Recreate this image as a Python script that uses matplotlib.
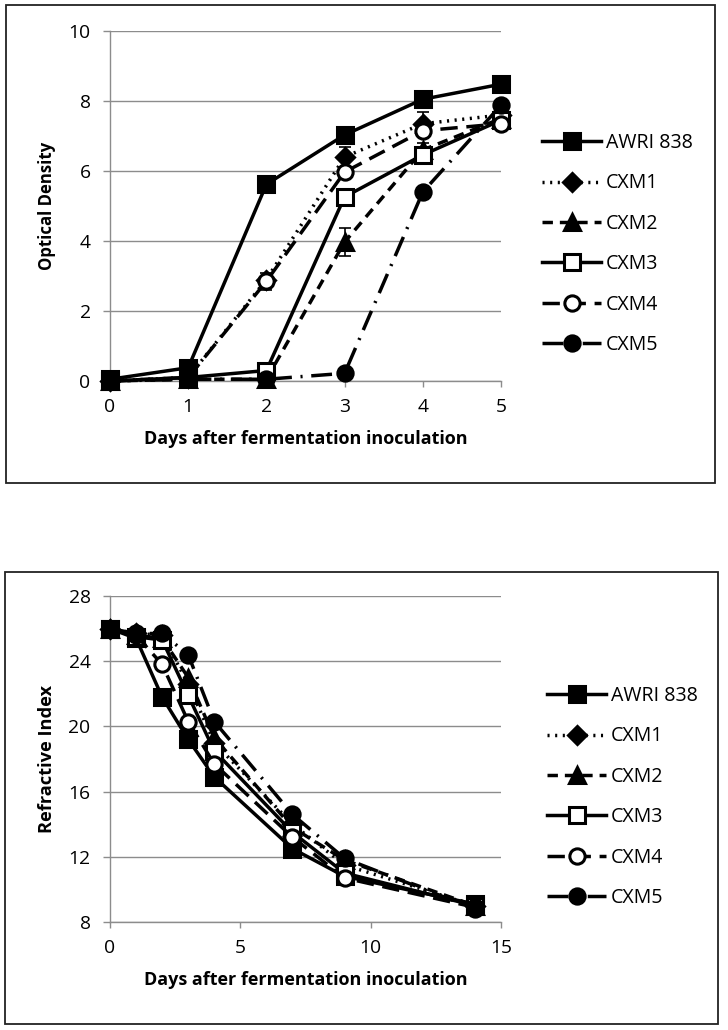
import matplotlib
matplotlib.use("Agg")
import matplotlib.pyplot as plt
from matplotlib.patches import Rectangle

plt.rcParams['font.family'] = ['Open Sans', 'DejaVu Sans']

# ---------- data ----------
strains = ["AWRI 838", "CXM1", "CXM2", "CXM3", "CXM4", "CXM5"]

od_days = [0, 1, 2, 3, 4, 5]
od_awri = [0.05, 0.38, 5.62, 7.03, 8.05, 8.48]
od_cxm1 = [0.0, 0.1, 2.9, 6.4, 7.35, 7.6]
od_cxm2 = [0.0, 0.05, 0.05, 3.97, 6.6, 7.5]
od_cxm3 = [0.0, 0.1, 0.3, 5.26, 6.46, 7.45]
od_cxm4 = [0.0, 0.1, 2.85, 5.97, 7.15, 7.35]
od_cxm5 = [0.0, 0.05, 0.05, 0.22, 5.4, 7.88]
od_err_cxm1 = [0, 0, 0.0, 0.29, 0.35, 0.1]
od_err_cxm2 = [0, 0, 0, 0.4, 0.2, 0.1]
od_err_cxm3 = [0, 0, 0, 0.15, 0.1, 0.05]
od_err_cxm4 = [0, 0, 0.25, 0.1, 0.15, 0.05]

ri_days = [0, 1, 2, 3, 4, 7, 9, 14]
ri_awri = [26.0, 25.4, 21.8, 19.2, 16.9, 12.5, 10.8, 9.1]
ri_cxm1 = [26.0, 25.7, 25.6, 22.6, 19.0, 14.0, 11.5, 9.0]
ri_cxm2 = [26.0, 25.6, 25.4, 23.0, 19.3, 13.8, 11.8, 9.0]
ri_cxm3 = [26.0, 25.5, 25.3, 21.9, 18.5, 13.5, 11.0, 9.0]
ri_cxm4 = [26.0, 25.6, 23.8, 20.3, 17.7, 13.2, 10.7, 8.9]
ri_cxm5 = [26.0, 25.7, 25.7, 24.4, 20.3, 14.6, 11.9, 8.8]

od_ticks = [0, 2, 4, 6, 8, 10]
ri_yticks = [8, 12, 16, 20, 24, 28]
ri_xticks = [0, 5, 10, 15]
xlabel = "Days after fermentation inoculation"

# ---------- styles ----------
styles = [
    dict(ls='-', marker='s', mfc='black'),
    dict(ls=(0, (0.6, 1.6)), marker='D', mfc='black', ms_scale=0.8),
    dict(ls=(0, (3, 2)), marker='^', mfc='black'),
    dict(ls='-', marker='s', mfc='white'),
    dict(ls=(0, (5, 2.5)), marker='o', mfc='white'),
    dict(ls=(0, (6, 2.5, 0.6, 2.5)), marker='o', mfc='black'),
]

W, H = 728, 1030
fig = plt.figure(figsize=(W / 100, H / 100), dpi=100)
renderer = fig.canvas.get_renderer()

def fit_size(text, target_px, weight='normal', base=12.0):
    t = fig.text(0, 0, text, fontsize=base, fontweight=weight)
    bb = t.get_window_extent(renderer)
    t.remove()
    return base * target_px / bb.width

XL_FS = fit_size(xlabel, 326, 'bold')
OD_FS = fit_size("Optical Density", 128, 'bold')
RI_FS = fit_size("Refractive Index", 148, 'bold')
LEG_FS = fit_size("AWRI 838", 87)
TICK_FS = fit_size("10", 22)

def px_axes(x0, y0, x1, y1):
    return fig.add_axes([x0 / W, 1 - y1 / H, (x1 - x0) / W, (y1 - y0) / H])

# panel frames
for (x0, y0, x1, y1) in [(6, 5, 715, 483), (5, 572, 718, 1024)]:
    fig.patches.append(Rectangle((x0 / W, 1 - y1 / H), (x1 - x0) / W, (y1 - y0) / H,
                                 transform=fig.transFigure, fill=False,
                                 edgecolor='#222222', lw=1.3))

def style_axes(ax):
    for s in ['top', 'right']:
        ax.spines[s].set_visible(False)
    for s in ['left', 'bottom']:
        ax.spines[s].set_color('#8c8c8c')
        ax.spines[s].set_linewidth(1.0)
    ax.grid(axis='y', color='#8c8c8c', lw=1.0)
    ax.set_axisbelow(True)
    ax.tick_params(axis='both', colors='#8c8c8c', labelcolor='black',
                   labelsize=TICK_FS, width=1.0)
    ax.tick_params(axis='x', length=4.5, pad=8)
    ax.tick_params(axis='y', length=5, pad=9)

def draw(ax, x, series, errs=None, lw=2.5, ms=11):
    for i, (name, y) in enumerate(zip(strains, series)):
        st = styles[i]
        m = ms * st.get('ms_scale', 1.0)
        ax.plot(x, y, color='black', lw=lw, ls=st['ls'], marker=st['marker'],
                ms=m, mfc=st['mfc'], mec='black', mew=2.2, label=name,
                clip_on=False, zorder=3)
        if errs and i in errs:
            ax.errorbar(x, y, yerr=errs[i], fmt='none', ecolor='black', elinewidth=1.2,
                        capsize=4, capthick=1.2, zorder=2)

def add_legend(ax, x_left, y_center, spacing_px):
    fs_px = LEG_FS * 100 / 72
    ax.legend(loc='center left', bbox_to_anchor=(x_left / W, 1 - y_center / H),
              bbox_transform=fig.transFigure, frameon=False, fontsize=LEG_FS,
              handlelength=59 / fs_px, handletextpad=5 / fs_px,
              labelspacing=(spacing_px / fs_px) - 1.0, borderpad=0, borderaxespad=0)

# ---------- top panel ----------
ax1 = px_axes(110, 31, 501, 381)
style_axes(ax1)
draw(ax1, od_days, [od_awri, od_cxm1, od_cxm2, od_cxm3, od_cxm4, od_cxm5],
     errs={1: od_err_cxm1, 2: od_err_cxm2, 3: od_err_cxm3, 4: od_err_cxm4})
ax1.set_xlim(0, 5)
ax1.set_ylim(0, 10)
ax1.set_xticks(od_days)
ax1.set_yticks(od_ticks)
ax1.set_ylabel("Optical Density", fontsize=OD_FS, fontweight='bold', labelpad=9)
ax1.set_xlabel(xlabel, fontsize=XL_FS, fontweight='bold', labelpad=10)
add_legend(ax1, 542, 244, 40)

# ---------- bottom panel ----------
ax2 = px_axes(110, 596, 501, 922)
style_axes(ax2)
draw(ax2, ri_days, [ri_awri, ri_cxm1, ri_cxm2, ri_cxm3, ri_cxm4, ri_cxm5])
ax2.set_xlim(0, 15)
ax2.set_ylim(8, 28)
ax2.set_xticks(ri_xticks)
ax2.set_yticks(ri_yticks)
ax2.set_ylabel("Refractive Index", fontsize=RI_FS, fontweight='bold', labelpad=9)
ax2.set_xlabel(xlabel, fontsize=XL_FS, fontweight='bold', labelpad=10)
add_legend(ax2, 547, 797, 40)

fig.savefig("out.png", dpi=100)
